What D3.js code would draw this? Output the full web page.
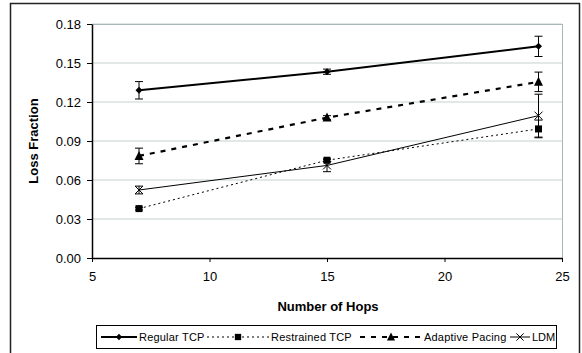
<!DOCTYPE html>
<html>
<head>
<meta charset="utf-8">
<script src="https://cdn.jsdelivr.net/npm/d3@7"></script>
<style>
  body { margin: 0; background: #fff; }
  svg { font-family: "Liberation Sans", Arial, sans-serif; }
</style>
</head>
<body>
<div id="chart"></div>
<script>
// data
const hops = [7, 15, 24];
const regularTcp = [0.129, 0.1433, 0.1628];
const regularErr = [0.0067, 0.002, 0.0078];
const restrainedTcp = [0.038, 0.0752, 0.0993];
const restrainedErr = [0.001, 0.001, 0.0068];
const adaptivePacing = [0.0785, 0.108, 0.1355];
const adaptiveErr = [0.006, 0.0015, 0.0075];
const ldm = [0.0523, 0.0712, 0.1095];
const ldmErr = [0.003, 0.0048, 0.0165];
const yTicks = [0, 0.03, 0.06, 0.09, 0.12, 0.15, 0.18];
const xTicks = [5, 10, 15, 20, 25];

const series = [
  { name: 'Regular TCP', values: regularTcp, err: regularErr, width: 2, dash: null, marker: 'diamond' },
  { name: 'Restrained TCP', values: restrainedTcp, err: restrainedErr, width: 1, dash: '2,3', marker: 'square' },
  { name: 'Adaptive Pacing', values: adaptivePacing, err: adaptiveErr, width: 2.2, dash: '5,6', marker: 'triangle' },
  { name: 'LDM', values: ldm, err: ldmErr, width: 1, dash: null, marker: 'x' }
];

const W = 582, H = 353;
const pLeft = 92, pRight = 562, pTop = 24, pBottom = 258;

const svg = d3.select('#chart').append('svg')
  .attr('width', W).attr('height', H);

// outer frame
svg.append('rect')
  .attr('x', 10.5).attr('y', 3.5)
  .attr('width', 569).attr('height', 360)
  .attr('fill', 'none').attr('stroke', '#222').attr('stroke-width', 1.5);

const x = d3.scaleLinear().domain([5, 25]).range([pLeft, pRight]);
const y = d3.scaleLinear().domain([0, 0.18]).range([pBottom, pTop]);

// gridlines
svg.append('g').selectAll('line')
  .data(yTicks.filter(d => d > 0))
  .enter().append('line')
  .attr('x1', pLeft).attr('x2', pRight)
  .attr('y1', d => y(d)).attr('y2', d => y(d))
  .attr('stroke', '#d8e0e0').attr('stroke-width', 1.5);

// plot border top / right
svg.append('line').attr('x1', pLeft).attr('x2', pRight).attr('y1', pTop + 0.5).attr('y2', pTop + 0.5)
  .attr('stroke', '#a8b8b8');
svg.append('line').attr('x1', pRight + 0.5).attr('x2', pRight + 0.5).attr('y1', pTop).attr('y2', pBottom)
  .attr('stroke', '#a8b8b8');

// axes
const yAxis = svg.append('g')
  .attr('transform', `translate(${pLeft},0)`)
  .call(d3.axisLeft(y).tickValues(yTicks).tickFormat(d3.format('.2f')).tickSize(5).tickSizeOuter(0));
const xAxis = svg.append('g')
  .attr('transform', `translate(0,${pBottom})`)
  .call(d3.axisBottom(x).tickValues(xTicks).tickSize(4).tickSizeOuter(0));

[yAxis, xAxis].forEach(a => {
  a.select('.domain').attr('stroke', '#000').attr('stroke-width', 1.5);
  a.selectAll('.tick line').attr('stroke', '#000');
  a.selectAll('text').attr('font-size', 13).attr('fill', '#000')
    .attr('font-family', '"Liberation Sans", Arial, sans-serif');
});
yAxis.selectAll('text').attr('x', -11);
xAxis.selectAll('text').attr('dy', '1.05em').attr('y', 9);

// axis titles
svg.append('text')
  .attr('transform', `translate(38,${(pTop + pBottom) / 2}) rotate(-90)`)
  .attr('text-anchor', 'middle')
  .attr('font-size', 13).attr('font-weight', 'bold')
  .text('Loss Fraction');
svg.append('text')
  .attr('x', 328).attr('y', 311)
  .attr('text-anchor', 'middle')
  .attr('font-size', 13).attr('font-weight', 'bold')
  .text('Number of Hops');

// marker drawing
function drawMarker(g, type, cx, cy, s) {
  s = s || 1;
  if (type === 'diamond') {
    g.append('path').attr('d', `M${cx},${cy - 3.5 * s}L${cx + 3.5 * s},${cy}L${cx},${cy + 3.5 * s}L${cx - 3.5 * s},${cy}Z`)
      .attr('fill', '#000');
  } else if (type === 'square') {
    g.append('rect').attr('x', cx - 3.5 * s).attr('y', cy - 3.5 * s)
      .attr('width', 7 * s).attr('height', 7 * s).attr('fill', '#000');
  } else if (type === 'triangle') {
    g.append('path').attr('d', `M${cx},${cy - 5 * s}L${cx + 4.5 * s},${cy + 4 * s}L${cx - 4.5 * s},${cy + 4 * s}Z`)
      .attr('fill', '#000');
  } else if (type === 'x') {
    g.append('path').attr('d', `M${cx - 4 * s},${cy - 4 * s}L${cx + 4 * s},${cy + 4 * s}M${cx - 4 * s},${cy + 4 * s}L${cx + 4 * s},${cy - 4 * s}`)
      .attr('stroke', '#000').attr('stroke-width', 1).attr('fill', 'none');
  }
}

const line = d3.line().x(d => x(d[0])).y(d => y(d[1]));

series.forEach(s => {
  const g = svg.append('g');
  const pts = hops.map((h, i) => [h, s.values[i]]);
  g.append('path')
    .attr('d', line(pts))
    .attr('fill', 'none').attr('stroke', '#000')
    .attr('stroke-width', s.width)
    .attr('stroke-dasharray', s.dash);
  // error bars
  hops.forEach((h, i) => {
    const cx = x(h), y0 = y(s.values[i] - s.err[i]), y1 = y(s.values[i] + s.err[i]);
    g.append('line').attr('x1', cx).attr('x2', cx).attr('y1', y0).attr('y2', y1)
      .attr('stroke', '#000').attr('stroke-width', 1);
    [y0, y1].forEach(v => {
      g.append('line').attr('x1', cx - 4).attr('x2', cx + 4).attr('y1', v).attr('y2', v)
        .attr('stroke', '#000').attr('stroke-width', 1);
    });
    drawMarker(g, s.marker, cx, y(s.values[i]));
  });
});

// legend
const lg = svg.append('g');
lg.append('rect')
  .attr('x', 96.5).attr('y', 325.5).attr('width', 460).attr('height', 23)
  .attr('fill', '#fff').attr('stroke', '#000').attr('stroke-width', 1);
const legendX = [101, 207, 360, 510];
const legendLen = [36, 62, 62, 20];
series.forEach((s, i) => {
  const lx = legendX[i], ly = 337, len = legendLen[i];
  lg.append('line').attr('x1', lx).attr('x2', lx + len).attr('y1', ly).attr('y2', ly)
    .attr('stroke', '#000').attr('stroke-width', s.width).attr('stroke-dasharray', s.dash);
  drawMarker(lg, s.marker, lx + len / 2, ly, 0.9);
  lg.append('text').attr('x', lx + len + 2).attr('y', ly + 4)
    .attr('font-size', 11).attr('letter-spacing', i === 3 ? 0 : 0.2)
    .text(s.name);
});
</script>
</body>
</html>
